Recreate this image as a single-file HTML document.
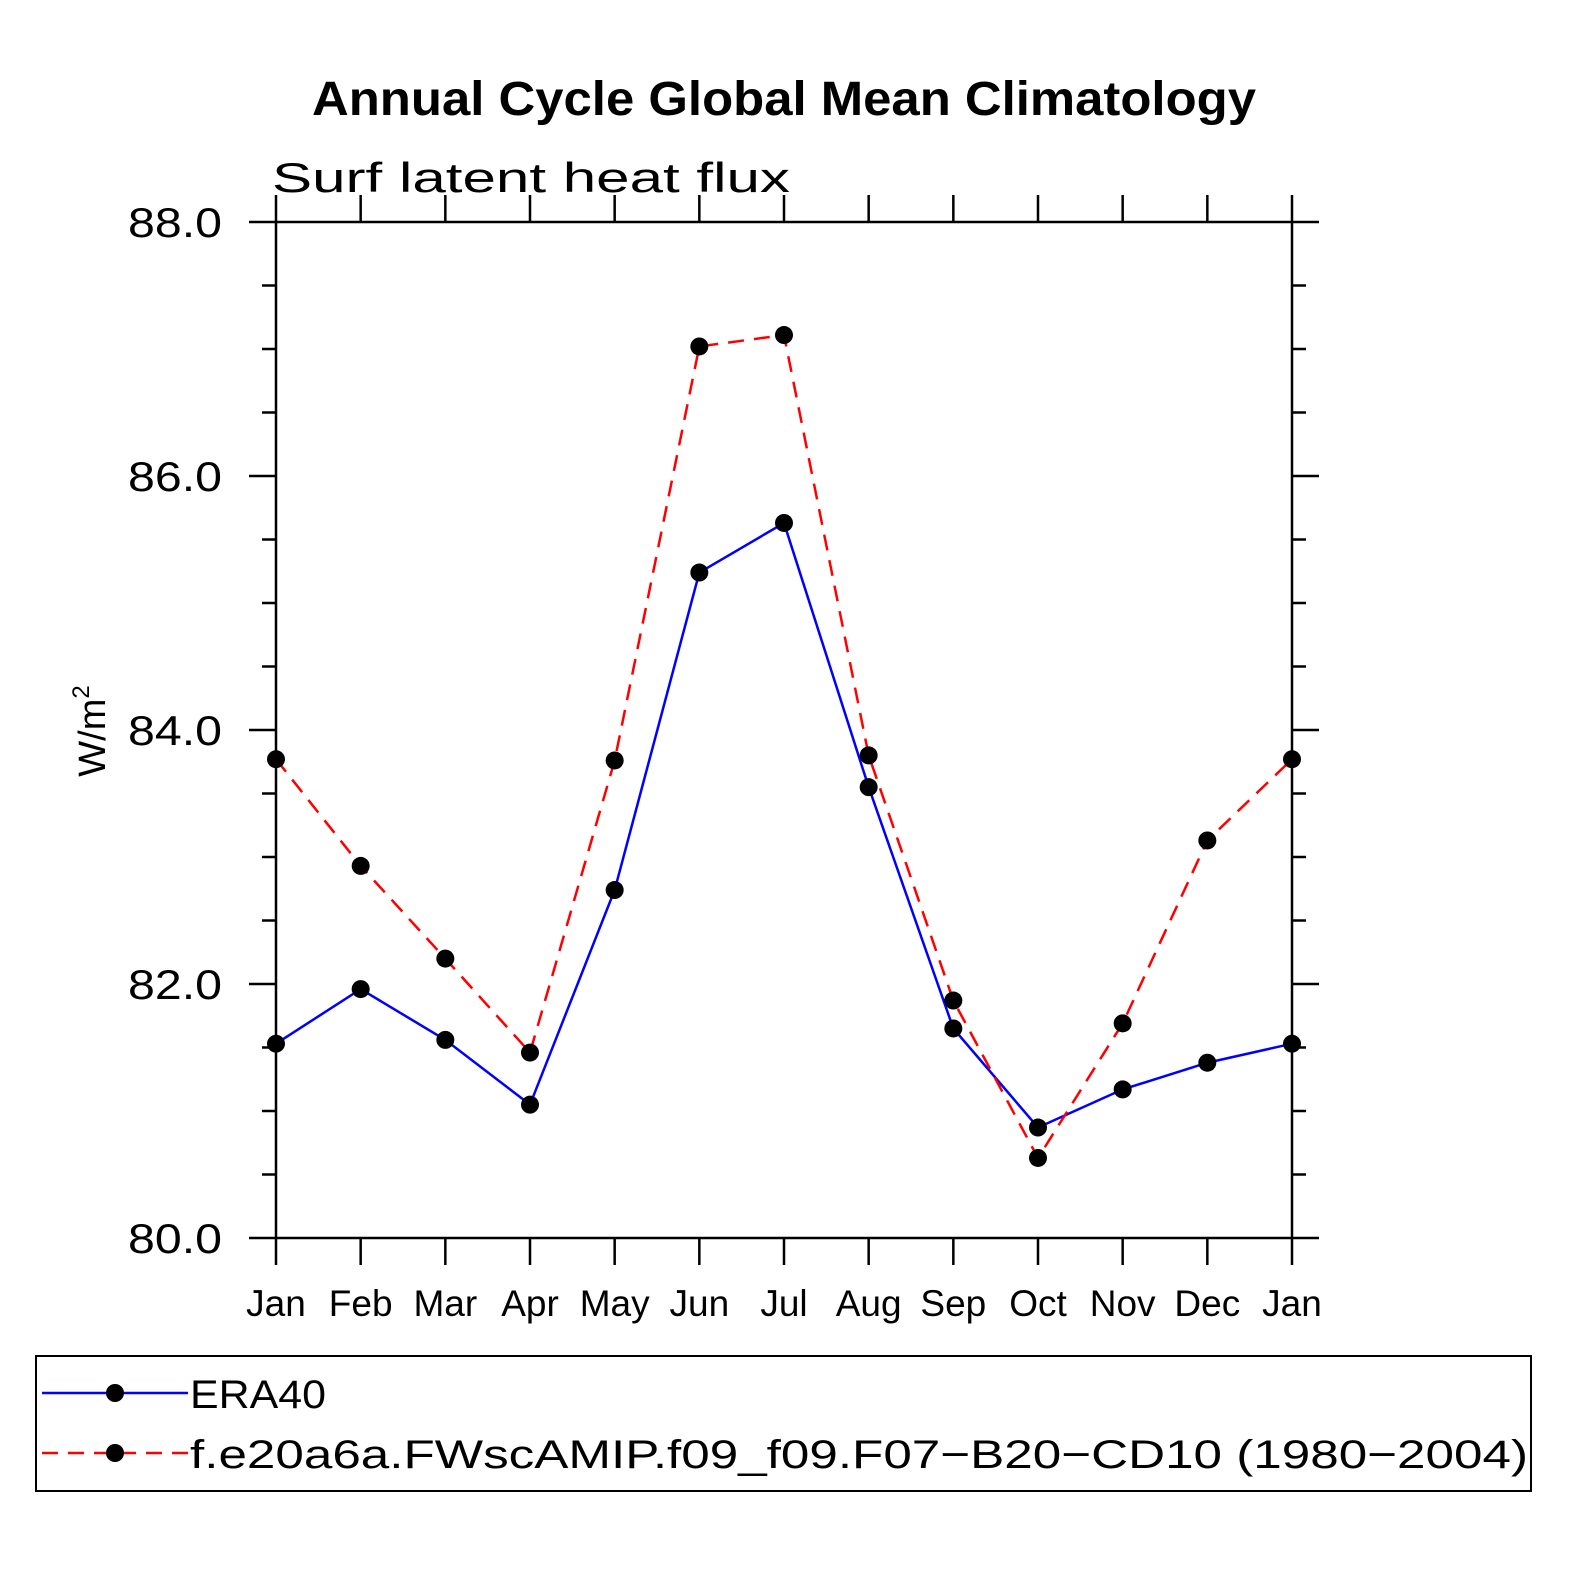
<!DOCTYPE html>
<html><head><meta charset="utf-8"><style>
body{margin:0;background:#fff}
svg text{font-family:"Liberation Sans",sans-serif}
</style></head><body>
<svg id="chart" width="1574" height="1574" viewBox="0 0 1574 1574" xmlns="http://www.w3.org/2000/svg">
<text x="784" y="115" text-anchor="middle" font-size="48" font-weight="bold" textLength="944" lengthAdjust="spacingAndGlyphs">Annual Cycle Global Mean Climatology</text>
<text x="272" y="192" font-size="42" textLength="518" lengthAdjust="spacingAndGlyphs">Surf latent heat flux</text>
<text transform="translate(105,731) rotate(-90)" text-anchor="middle" font-size="38">W/m<tspan dy="-16" font-size="24">2</tspan></text>
<g id="axes"></g>
<g id="series"></g>
<rect x="36" y="1356" width="1495" height="135" fill="none" stroke="#000" stroke-width="2"/>
<g>
<line x1="42" y1="1393" x2="188" y2="1393" stroke="#0000ff" stroke-width="2.5"/>
<circle cx="115" cy="1393" r="9" fill="#000"/>
<text x="190" y="1408" font-size="40" textLength="136" lengthAdjust="spacingAndGlyphs">ERA40</text>
</g>
<g>
<line x1="42" y1="1453" x2="188" y2="1453" stroke="#ff0000" stroke-width="2.5" stroke-dasharray="16,10"/>
<circle cx="115" cy="1453" r="9" fill="#000"/>
<text x="190" y="1468" font-size="40" textLength="1338" lengthAdjust="spacingAndGlyphs">f.e20a6a.FWscAMIP.f09_f09.F07−B20−CD10 (1980−2004)</text>
</g>
</svg>
<script>
const months = ["Jan","Feb","Mar","Apr","May","Jun","Jul","Aug","Sep","Oct","Nov","Dec","Jan"];
const era40 = [81.53,81.96,81.56,81.05,82.74,85.24,85.63,83.55,81.65,80.87,81.17,81.38,81.53];
const model = [83.77,82.93,82.20,81.46,83.76,87.02,87.11,83.80,81.87,80.63,81.69,83.13,83.77];
const yTicks = [80,82,84,86,88];
const yTickLabels = ["80.0","82.0","84.0","86.0","88.0"];

const X0=276,X1=1292,Y0=1238,Y1=222,YMIN=80,YMAX=88;
const NS="http://www.w3.org/2000/svg";
const xs=i=>X0+(X1-X0)*i/(months.length-1);
const ys=v=>Y0-(v-YMIN)/(YMAX-YMIN)*(Y0-Y1);
function mk(tag,attrs,parent){const e=document.createElementNS(NS,tag);for(const k in attrs)e.setAttribute(k,attrs[k]);parent.appendChild(e);return e;}
const axes=document.getElementById('axes');
const frame=mk('rect',{x:X0,y:Y1,width:X1-X0,height:Y0-Y1,fill:'none',stroke:'#000','stroke-width':2.5},axes);


months.forEach((m,i)=>{
  const x=xs(i);
  mk('line',{x1:x,y1:Y0,x2:x,y2:Y0+27,stroke:'#000','stroke-width':2.5},axes);
  mk('line',{x1:x,y1:Y1,x2:x,y2:Y1-27,stroke:'#000','stroke-width':2.5},axes);
  const t=mk('text',{x:x,y:Y0+78,'text-anchor':'middle','font-size':37},axes);
  t.textContent=m;
  
  
});
for(let v=YMIN;v<=YMAX+1e-9;v+=0.5){
  const y=ys(v);const major=Math.abs(v/2-Math.round(v/2))<1e-6;
  const L=major?27:14;
  mk('line',{x1:X0-L,y1:y,x2:X0,y2:y,stroke:'#000','stroke-width':2.5},axes);
  mk('line',{x1:X1,y1:y,x2:X1+L,y2:y,stroke:'#000','stroke-width':2.5},axes);
}
yTicks.forEach((v,i)=>{
  const t=mk('text',{x:128,y:ys(v)+15,'font-size':42,textLength:94,lengthAdjust:'spacingAndGlyphs'},axes);
  t.textContent=yTickLabels[i];
  
  
});
const series=document.getElementById('series');
function draw(vals,color,dash,name){
  const g=mk('g',{},series);
  
  
  const pts=vals.map((v,i)=>xs(i)+','+ys(v)).join(' ');
  const a={points:pts,fill:'none',stroke:color,'stroke-width':2.5};
  if(dash)a['stroke-dasharray']=dash;
  mk('polyline',a,g);
  vals.forEach((v,i)=>{
    const c=mk('circle',{cx:xs(i),cy:ys(v),r:9,fill:'#000'},g);
    
    
  });
}
draw(era40,'#0000ff',null,'era40-series');
draw(model,'#ff0000','16,10','model-series');
</script>
</body></html>
